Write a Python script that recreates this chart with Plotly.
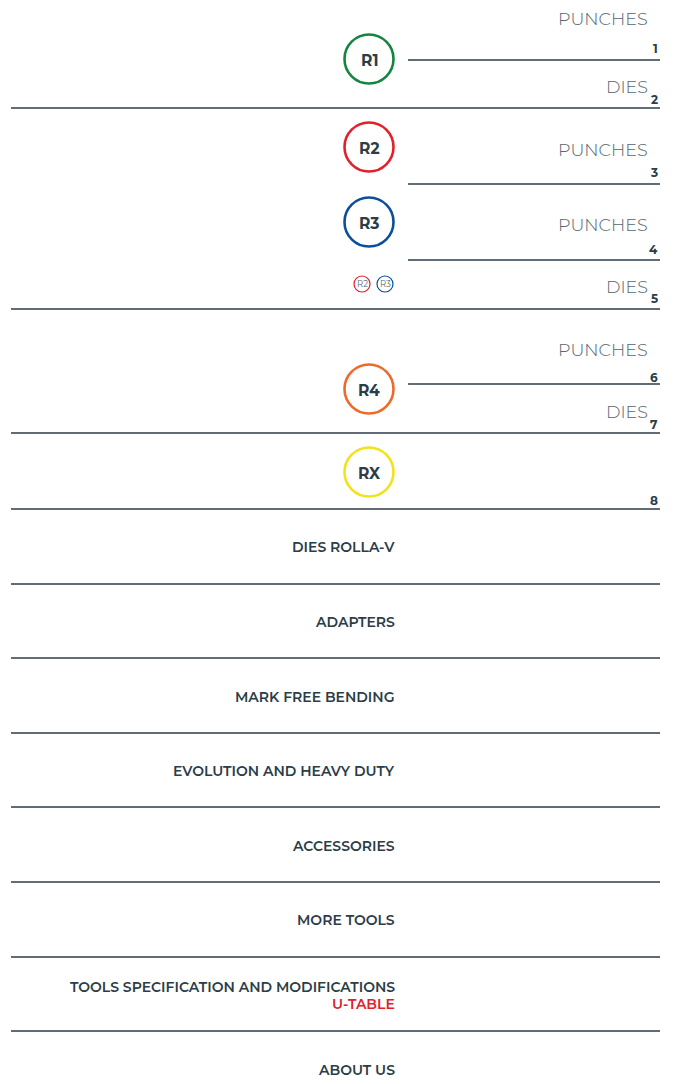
import plotly.graph_objects as go

# ---- data ----
full_lines_y = [108, 309, 433, 509, 584, 658, 733, 807, 882, 957, 1031]
short_lines_y = [60, 184, 260, 384]

circle_labels = ["R1", "R2", "R3", "R4", "RX"]
circle_y = [59, 147, 222, 389, 472]
circle_colors = ["#12853f", "#e3202a", "#0a4f9c", "#ee6a2a", "#f2e21a"]

small_labels = ["R2", "R3"]
small_x = [362, 385]
small_colors = ["#e3202a", "#0a4f9c"]

section_labels = ["PUNCHES", "DIES", "PUNCHES", "PUNCHES", "DIES", "PUNCHES", "DIES"]
section_y = [18, 86, 149, 224, 286, 349, 411]

page_numbers = ["1", "2", "3", "4", "5", "6", "7", "8"]
page_y = [48, 99, 172, 249, 298, 377, 424, 500]

menu_labels = ["DIES ROLLA-V", "ADAPTERS", "MARK FREE BENDING", "EVOLUTION AND HEAVY DUTY",
               "ACCESSORIES", "MORE TOOLS", "TOOLS SPECIFICATION AND MODIFICATIONS", "ABOUT US"]
menu_y = [547, 622, 697, 771, 846, 920, 987, 1070]
sub_label = "U-TABLE"
sub_y = 1004

DARK = "#2b3d48"
GRAY = "#56656f"
FONT = "Montserrat, Inter, Lato, sans-serif"

fig = go.Figure()
shapes = []
ann = []

for y in full_lines_y:
    shapes.append(dict(type="line", x0=11, x1=660, y0=y, y1=y, xref="x", yref="y",
                       line=dict(color=DARK, width=1.3)))
for y in short_lines_y:
    shapes.append(dict(type="line", x0=408, x1=660, y0=y, y1=y, xref="x", yref="y",
                       line=dict(color=DARK, width=1.3)))

R = 24.5
for lab, cy, col in zip(circle_labels, circle_y, circle_colors):
    shapes.append(dict(type="circle", x0=369 - R, x1=369 + R, y0=cy - R, y1=cy + R,
                       xref="x", yref="y", line=dict(color=col, width=2.6)))
    ann.append(dict(x=369, y=cy + 1, text=lab, showarrow=False, xanchor="center", yanchor="middle",
                    font=dict(family=FONT, size=15.5, color=DARK, weight=700)))

r = 8
for lab, cx, col in zip(small_labels, small_x, small_colors):
    shapes.append(dict(type="circle", x0=cx - r, x1=cx + r, y0=284 - r, y1=284 + r,
                       xref="x", yref="y", line=dict(color=col, width=1.2)))
    ann.append(dict(x=cx, y=284, text=lab, showarrow=False, xanchor="center", yanchor="middle",
                    font=dict(family=FONT, size=8.5, color=GRAY)))

for lab, y in zip(section_labels, section_y):
    ann.append(dict(x=650, y=y, text=lab, showarrow=False, xanchor="right", yanchor="middle",
                    font=dict(family=FONT, size=17.5, color=GRAY, weight=300)))

for lab, y in zip(page_numbers, page_y):
    ann.append(dict(x=660, y=y, text=lab, showarrow=False, xanchor="right", yanchor="middle",
                    font=dict(family=FONT, size=12, color=DARK, weight=700)))

for lab, y in zip(menu_labels, menu_y):
    ann.append(dict(x=397, y=y, text=lab, showarrow=False, xanchor="right", yanchor="middle",
                    font=dict(family=FONT, size=14, color=DARK, weight=600)))
ann.append(dict(x=397, y=sub_y, text=sub_label, showarrow=False, xanchor="right", yanchor="middle",
                font=dict(family=FONT, size=14, color="#e3202a", weight=600)))

# page body has an 8px default margin, so the plot covers the rest of the window
fig.update_layout(
    width=669, height=1076,
    margin=dict(l=0, r=0, t=0, b=0),
    paper_bgcolor="white", plot_bgcolor="white",
    xaxis=dict(range=[8, 677], visible=False, fixedrange=True),
    yaxis=dict(range=[1084, 8], visible=False, fixedrange=True),
    shapes=shapes, annotations=ann, showlegend=False,
)
fig.write_html("out.html", config={"displayModeBar": False})
